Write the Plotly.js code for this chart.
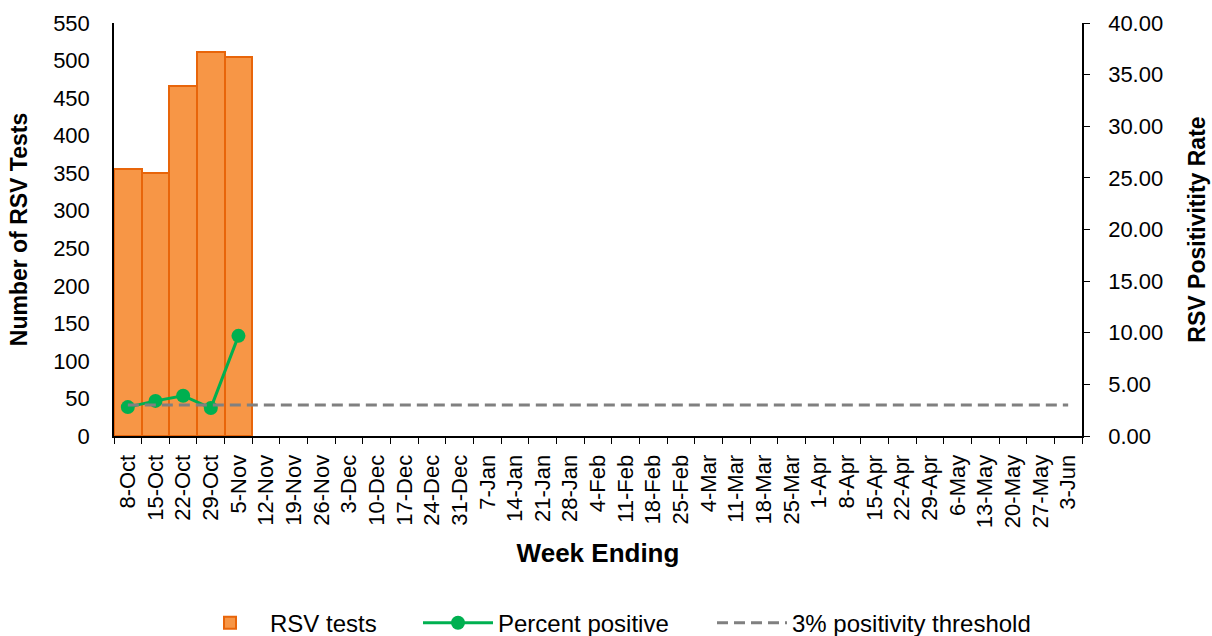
<!DOCTYPE html>
<html>
<head>
<meta charset="utf-8">
<script src="https://cdn.plot.ly/plotly-3.0.1.min.js"></script>
<style>
  body { margin: 0; background: #fff; }
  #plotArea { width: 1212px; height: 636px; }
</style>
</head>
<body>
<div id="plotArea"></div>
<script>
// Week ending labels
var weeks = ["8-Oct", "15-Oct", "22-Oct", "29-Oct", "5-Nov", "12-Nov", "19-Nov", "26-Nov",
    "3-Dec", "10-Dec", "17-Dec", "24-Dec", "31-Dec", "7-Jan", "14-Jan", "21-Jan", "28-Jan",
    "4-Feb", "11-Feb", "18-Feb", "25-Feb", "4-Mar", "11-Mar", "18-Mar", "25-Mar",
    "1-Apr", "8-Apr", "15-Apr", "22-Apr", "29-Apr", "6-May", "13-May", "20-May", "27-May", "3-Jun"];

// RSV tests (only first weeks reported)
var testWeeks = ["8-Oct", "15-Oct", "22-Oct", "29-Oct", "5-Nov"];
var rsvTests = [355, 350, 466, 511, 505];

// Percent positive
var percentPositive = [2.8, 3.4, 3.9, 2.7, 9.7];

// 3% threshold
var threshold = [3, 3, 3, 3, 3, 3, 3, 3, 3, 3, 3, 3, 3, 3, 3, 3, 3, 3, 3, 3, 3, 3, 3, 3, 3,
    3, 3, 3, 3, 3, 3, 3, 3, 3, 3];

var barTrace = {
    x: testWeeks,
    y: rsvTests,
    type: "bar",
    name: "RSV tests",
    legend: "legend",
    marker: {color: "#F79646", line: {color: "#E8650A", width: 2}},
    width: 1
};

var lineTrace = {
    x: testWeeks,
    y: percentPositive,
    type: "scatter",
    mode: "lines+markers",
    name: "Percent positive",
    legend: "legend2",
    yaxis: "y2",
    line: {color: "#00B050", width: 3},
    marker: {color: "#00B050", size: 14}
};

var threshTrace = {
    x: weeks,
    y: threshold,
    type: "scatter",
    mode: "lines",
    name: "3% positivity threshold",
    legend: "legend3",
    yaxis: "y2",
    line: {color: "#808080", width: 3, dash: "11px,6px"}
};

var fam = "Liberation Sans, Arial, sans-serif";
var tickFont = {family: fam, size: 22, color: "#000"};
var titleFont = {family: fam, size: 23, color: "#000", weight: "bold"};
var legendFont = {family: fam, size: 24, color: "#000"};

function legendAt(xpx) {
    return {
        orientation: "h",
        x: (xpx - 114) / 968,
        xanchor: "left",
        y: -0.453,
        yanchor: "middle",
        font: legendFont,
        itemwidth: 70,
        bgcolor: "rgba(0,0,0,0)"
    };
}

var layout = {
    width: 1212,
    height: 636,
    margin: {l: 114, r: 130, t: 23, b: 200, autoexpand: false},
    paper_bgcolor: "#fff",
    plot_bgcolor: "#fff",
    showlegend: true,
    bargap: 0,
    font: {family: fam, color: "#000"},
    xaxis: {
        type: "category",
        categoryorder: "array",
        categoryarray: weeks,
        range: [-0.5, 34.5],
        automargin: false,
        tickangle: -90,
        tickfont: tickFont,
        showline: true,
        linecolor: "#000",
        linewidth: 2,
        ticks: "outside",
        tickson: "boundaries",
        ticklen: 6,
        tickcolor: "#000",
        ticklabelstandoff: 8,
        showgrid: false,
        title: {text: "Week Ending", font: {family: fam, size: 26, color: "#000", weight: "bold"}, standoff: 17}
    },
    yaxis: {
        range: [0, 550],
        dtick: 50,
        automargin: false,
        tickfont: tickFont,
        showline: true,
        linecolor: "#000",
        linewidth: 1.5,
        showgrid: false,
        zeroline: false,
        ticks: "",
        ticklabelstandoff: 18,
        title: {text: "Number of RSV Tests", font: titleFont, standoff: 19}
    },
    yaxis2: {
        overlaying: "y",
        side: "right",
        range: [0, 40],
        dtick: 5,
        tickformat: ".2f",
        automargin: false,
        tickfont: tickFont,
        showline: true,
        linecolor: "#000",
        linewidth: 1.5,
        showgrid: false,
        zeroline: false,
        ticks: "outside",
        ticklen: 6,
        tickcolor: "#000",
        ticklabelstandoff: 14,
        title: {text: "RSV Positivitity Rate", font: titleFont, standoff: 27}
    },
    legend: legendAt(190),
    legend2: legendAt(418),
    legend3: legendAt(712)
};

Plotly.newPlot("plotArea", [barTrace, lineTrace, threshTrace], layout, {displayModeBar: false});
</script>
</body>
</html>
